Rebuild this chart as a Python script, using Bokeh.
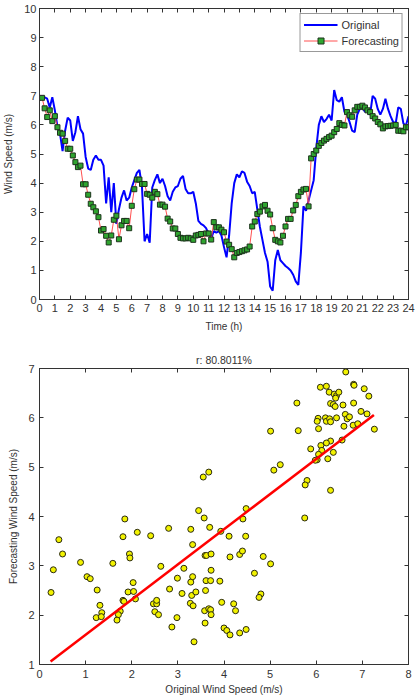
from bokeh.plotting import figure
from bokeh.models import Range1d, FixedTicker, LinearAxis, Legend, LegendItem
from bokeh.layouts import column
from bokeh.embed import file_html
from bokeh.resources import INLINE

# ---- data -------------------------------------------------------------
STEP_H = 1 / 6  # 10-minute sampling, in hours

original_speed = [
    6.85, 7.0, 6.95, 6.9, 6.6, 6.95, 6.5, 5.95, 5.7, 5.1,
    5.8, 6.25, 6.15, 5.45, 5.75, 6.3, 5.85, 5.7, 4.9, 4.5,
    4.45, 4.8, 4.95, 4.8, 4.8, 4.6, 3.3, 4.2, 3.0, 4.0,
    2.6, 3.1, 3.5, 3.75, 3.4, 3.5, 3.85, 4.1, 4.35, 4.45,
    3.85, 2.0, 2.25, 1.95, 3.85, 4.1, 4.3, 4.0, 4.15, 3.9,
    3.55, 3.4, 3.7, 3.85, 3.9, 4.15, 4.25, 3.8, 3.65, 3.65,
    3.7, 3.3, 2.7, 2.6, 2.55, 2.45, 2.25, 2.1, 2.35, 2.3,
    2.35, 2.2, 1.8, 1.45, 2.2, 3.3, 4.0, 4.3, 4.2, 4.4,
    4.35, 4.05, 3.9, 3.65, 3.7, 3.1, 2.5, 2.05, 1.6, 1.3,
    0.45, 0.3, 1.35, 1.7, 1.35, 1.25, 1.15, 1.08, 1.0, 0.85,
    0.62, 0.5, 1.6, 3.2, 3.05, 3.4, 3.75, 4.1, 5.2, 6.0,
    6.3, 6.1, 6.2, 6.35, 6.15, 7.2, 6.85, 6.8, 6.95, 6.45,
    6.35, 6.1, 5.8, 5.75, 6.35, 6.55, 6.6, 6.45, 6.5, 6.35,
    7.0, 6.9, 6.55, 6.35, 6.55, 6.9, 6.55, 6.3, 6.1, 6.05,
    6.6, 6.55, 6.05, 5.98, 6.3,
]

forecast_speed = [
    6.93, 6.57, 6.27, 6.5, 6.13, 6.3, 5.92, 5.73, 5.7, 5.45,
    5.18, 5.18, 4.95, 4.72, 4.55, 4.6, 3.96, 3.96, 3.6, 3.29,
    3.17, 3.03, 2.83, 2.37, 2.42, 2.19, 1.96, 2.2, 2.74, 2.88,
    2.07, 2.55, 2.7, 2.7, 2.45, 3.22, 3.79, 4.12, 4.12, 3.97,
    3.97, 3.63, 3.6, 3.5, 3.7, 3.62, 3.26, 3.26, 3.19, 2.78,
    2.68, 2.44, 2.44, 2.25, 2.12, 2.1, 2.1, 2.12, 2.1, 2.05,
    2.2, 2.22, 2.25, 2.0, 2.27, 2.27, 2.06, 2.66, 2.48, 2.48,
    2.4, 2.31, 1.99, 1.88, 1.73, 1.45, 1.6, 1.63, 1.66, 1.69,
    1.72, 1.82, 2.51, 2.68, 2.94, 3.02, 3.2, 3.25, 3.05, 2.92,
    2.45, 2.05, 2.0, 1.96, 2.19, 2.51, 2.77, 2.77, 3.06, 3.25,
    3.55, 3.7, 3.78, 3.8, 3.2, 4.85, 5.0, 5.12, 5.28, 5.38,
    5.46, 5.52, 5.58, 5.63, 5.75, 5.86, 6.06, 6.0, 5.98, 6.44,
    6.33, 6.28, 6.5, 6.62, 6.62, 6.66, 6.6, 6.5, 6.44, 6.3,
    6.22, 6.1, 6.02, 5.88, 5.95, 5.96, 5.97, 5.98, 6.0, 5.8,
    5.8, 5.78, 5.92, 5.92,
]

time_original = [i * STEP_H for i in range(len(original_speed))]
time_forecast = [(i + 1) * STEP_H for i in range(len(forecast_speed))]

scatter_original = [
    0.25, 0.30, 0.42, 0.50, 0.89, 1.03, 1.10, 1.25, 1.31, 1.23,
    1.35, 1.34, 1.59, 1.81, 1.85, 1.95, 1.96, 1.92, 1.81, 1.83,
    1.75, 1.71, 1.68, 2.03, 2.04, 2.08, 2.12, 2.41, 2.47, 2.54,
    2.54, 2.50, 2.58, 2.63, 2.80, 2.82, 2.87, 2.98, 2.99, 3.09,
    3.13, 3.28, 3.32, 3.28, 3.32, 3.30, 3.27, 3.33, 3.35, 3.39,
    3.45, 3.57, 3.59, 3.62, 3.60, 3.61, 3.58, 3.59, 3.67, 3.69,
    3.72, 3.72, 3.71, 3.71, 3.72,
    3.91, 3.95, 3.93, 4.11, 4.13, 4.34, 4.40, 4.47, 4.41, 4.48,
    4.85, 5.01, 4.66, 4.80, 4.76, 4.21, 4.25, 4.00, 4.06, 4.13,
    4.34, 4.48, 5.75,
    3.55, 3.67,
    6.64, 6.09, 6.22, 6.28, 6.39, 6.44, 6.49, 6.42, 6.81, 6.82,
    7.04, 7.14, 5.58, 6.31, 6.37, 6.41, 6.58, 6.81, 6.97, 7.10,
    6.04, 6.02, 6.20, 6.22, 6.29, 6.31, 6.44, 6.63, 6.67, 6.72,
    6.05, 6.60, 6.80, 6.90, 7.26, 5.01, 5.61, 6.31, 6.22, 6.10,
    6.12, 6.05, 6.02, 6.56, 5.88, 6.37, 6.25, 5.98, 5.22, 5.08,
    5.80, 5.76, 6.31,
]

scatter_forecast = [
    2.46, 2.92, 3.53, 3.24, 3.07, 2.78, 2.74, 2.51, 2.20, 1.95,
    2.05, 1.97, 3.05, 3.59, 3.95, 3.24, 3.16, 2.47, 2.30, 2.28,
    2.08, 2.01, 1.90, 2.66, 2.48, 2.33, 3.68, 3.61, 2.23, 2.23,
    2.30, 2.07, 2.01, 2.99, 3.76, 2.53, 1.76, 1.95, 2.75, 2.44,
    2.95, 3.74, 3.43, 2.67, 2.78, 2.40, 2.24, 2.19, 1.46, 2.47,
    4.12, 3.97, 3.21, 3.21, 2.50, 2.70, 2.09, 1.84, 2.13, 3.78,
    3.24, 2.91, 2.70, 2.11, 2.01,
    2.69, 2.26, 3.70, 3.60, 3.18, 3.23, 3.30, 3.60, 3.95, 4.16,
    3.19, 3.04, 2.85, 2.43, 2.36, 2.23, 2.09, 1.74, 1.69, 1.60,
    1.64, 1.71, 3.97,
    4.80, 4.90,
    6.93, 6.62, 6.64, 6.52, 6.48, 6.45, 6.52, 6.40, 6.68, 6.66,
    6.59, 6.44, 6.30, 6.29, 6.27, 6.23, 6.26, 6.30, 6.13, 6.08,
    5.99, 5.93, 6.00, 5.93, 5.98, 5.92, 6.00, 6.07, 5.98, 6.02,
    5.78, 5.83, 5.85, 5.88, 5.77, 5.73, 5.74, 5.53, 5.49, 5.44,
    5.34, 5.26, 5.15, 5.55, 5.37, 5.30, 5.17, 5.14, 5.05, 4.94,
    4.73, 4.64, 4.53,
]

# least-squares fit drawn through the scatter
fit_slope = 0.713
fit_intercept = 0.89
fit_x = [0.24, 7.25]
fit_y = [fit_intercept + fit_slope * x for x in fit_x]

r_label = "r: 80.8011%"

hour_ticks = list(range(0, 25))
speed_ticks = list(range(0, 11))
scatter_x_ticks = list(range(0, 9))
scatter_y_ticks = list(range(1, 8))

# ---- style ------------------------------------------------------------
FONT = "Liberation Sans"
TEXT = "#333333"
AXIS = "#333333"


def style_axis(ax, label_size="11px", standoff=3, label_standoff=5):
    ax.major_tick_in = 4
    ax.major_tick_out = 0
    ax.minor_tick_line_color = None
    ax.axis_line_color = AXIS
    ax.major_tick_line_color = AXIS
    ax.major_label_text_font = FONT
    ax.major_label_text_font_size = label_size
    ax.major_label_text_color = TEXT
    ax.major_label_standoff = standoff
    ax.axis_label_text_font = FONT
    ax.axis_label_text_font_size = "10px"
    ax.axis_label_text_font_style = "normal"
    ax.axis_label_text_color = TEXT
    ax.axis_label_standoff = label_standoff


def add_mirror_axes(p, xticks, yticks):
    # tick marks only on the top and right edges of the box
    for loc, ticks in (("above", xticks), ("right", yticks)):
        ax = LinearAxis(ticker=FixedTicker(ticks=ticks))
        style_axis(ax)
        ax.major_label_text_font_size = "0px"
        ax.major_label_text_color = None
        ax.major_label_standoff = 0
        p.add_layout(ax, loc)


def base_figure(height, xr, yr, borders):
    left, right, top, bottom = borders
    p = figure(width=415, height=height, x_range=Range1d(*xr), y_range=Range1d(*yr),
               output_backend="svg", toolbar_location=None,
               min_border_left=left, min_border_right=right,
               min_border_top=top, min_border_bottom=bottom)
    p.xgrid.visible = False
    p.ygrid.visible = False
    p.outline_line_color = AXIS
    p.background_fill_color = "white"
    p.border_fill_color = "white"
    return p


# ---- time series ------------------------------------------------------
p1 = base_figure(338, (0, 24), (0, 10), (35, 7, 8, 39))
p1.xaxis.ticker = FixedTicker(ticks=hour_ticks)
p1.yaxis.ticker = FixedTicker(ticks=speed_ticks)
style_axis(p1.xaxis[0], standoff=4, label_standoff=6)
style_axis(p1.yaxis[0], standoff=3, label_standoff=7)
p1.xaxis.axis_label = "Time (h)"
p1.yaxis.axis_label = "Wind Speed (m/s)"
add_mirror_axes(p1, hour_ticks, speed_ticks)

r_orig = p1.line(time_original, original_speed, line_color="#0000ff", line_width=2)
r_fc_line = p1.line(time_forecast, forecast_speed, line_color="#ff5050", line_width=1)
r_fc_pts = p1.scatter(time_forecast, forecast_speed, marker="square", size=5,
                      fill_color="#2fa52f", line_color="#1c331c", line_width=1)

legend = Legend(items=[LegendItem(label="Original", renderers=[r_orig]),
                       LegendItem(label="Forecasting", renderers=[r_fc_line, r_fc_pts])],
                location="top_right", margin=5, padding=3, spacing=1,
                glyph_width=34, glyph_height=15, label_standoff=4, label_height=15,
                label_text_font=FONT, label_text_font_size="11px", label_text_color=TEXT,
                border_line_color=AXIS, border_line_width=1, background_fill_alpha=1)
p1.add_layout(legend)

# ---- scatter ----------------------------------------------------------
p2 = base_figure(360, (0, 8), (1, 7), (32, 6, 30, 34))
p2.xaxis.ticker = FixedTicker(ticks=scatter_x_ticks)
p2.yaxis.ticker = FixedTicker(ticks=scatter_y_ticks)
style_axis(p2.xaxis[0], standoff=5, label_standoff=3)
style_axis(p2.yaxis[0], standoff=5, label_standoff=6)
p2.xaxis.axis_label = "Original Wind Speed (m/s)"
p2.yaxis.axis_label = "Forecasting Wind Speed (m/s)"
add_mirror_axes(p2, scatter_x_ticks, scatter_y_ticks)

p2.title.text = r_label
p2.title.align = "center"
p2.title.text_font = FONT
p2.title.text_font_size = "10.5px"
p2.title.text_font_style = "normal"
p2.title.text_color = TEXT
p2.title.standoff = 6

p2.scatter(scatter_original, scatter_forecast, marker="circle", size=6,
           fill_color="#f2f200", line_color="#2a2a10", line_width=1)
p2.line(fit_x, fit_y, line_color="#ff0000", line_width=2.5)

layout = column(p1, p2, spacing=0)
open("out.html", "w").write(file_html(layout, INLINE))
